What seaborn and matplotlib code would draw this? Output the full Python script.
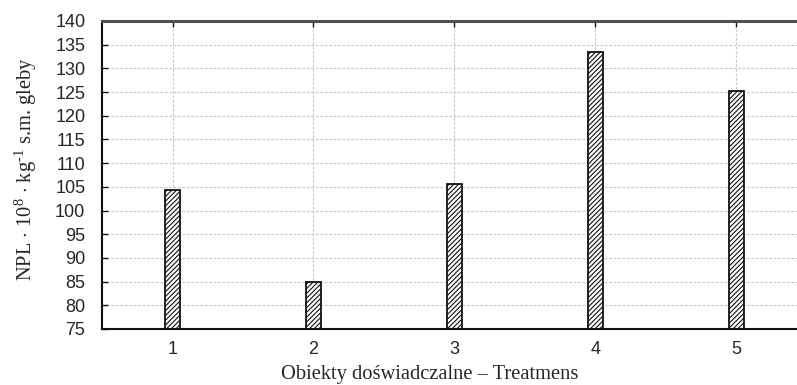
import matplotlib
matplotlib.use("Agg")
import matplotlib.pyplot as plt
import seaborn as sns
import pandas as pd

treatments = ["1", "2", "3", "4", "5"]
npl_values = [104.3, 84.9, 105.5, 133.4, 125.2]
y_ticks = list(range(75, 141, 5))

sns.set_theme(style="white")
plt.rcParams["hatch.linewidth"] = 0.8
plt.rcParams["font.family"] = ["Liberation Sans", "DejaVu Sans"]
plt.rcParams["mathtext.fontset"] = "custom"
plt.rcParams["mathtext.rm"] = "Liberation Serif"
plt.rcParams["mathtext.it"] = "Liberation Serif:italic"

df = pd.DataFrame({"treatment": treatments, "npl": npl_values})

fig = plt.figure(figsize=(7.97, 3.85), dpi=100)
ax = fig.add_axes([0.128, 0.1455, 0.872, 0.80])

sns.barplot(data=df, x="treatment", y="npl", ax=ax, width=0.105,
            color="white", edgecolor="#111111", linewidth=1.3,
            hatch="///////", bottom=0)

ax.set_ylim(75, 140)
ax.set_xlim(-0.5, 4.43)
ax.set_yticks(y_ticks)
ax.set_yticklabels([str(v) for v in y_ticks])

ax.grid(True, axis="both", linestyle=(0, (2.5, 1.5)), color="#c8c8c8", linewidth=0.8)
ax.set_axisbelow(True)

for side in ["left", "bottom"]:
    ax.spines[side].set_color("#111111")
    ax.spines[side].set_linewidth(1.5)
ax.spines["top"].set_color("#505050")
ax.spines["top"].set_linewidth(2.2)
ax.spines["right"].set_visible(False)

ax.tick_params(axis="y", direction="in", length=4, width=1, color="#111111",
               labelsize=13, pad=12, left=True)
ax.tick_params(axis="x", direction="in", length=4, width=1, color="#111111",
               labelsize=13, pad=9, bottom=False, top=True)

ax.set_xlabel("Obiekty doświadczalne – Treatmens", family="Liberation Serif",
              fontsize=14.8)
ax.set_ylabel(r"NPL $\cdot$ 10$^{8}$ $\cdot$ kg$^{\text{-1}}$ s.m. gleby",
              family="Liberation Serif", fontsize=14.8)
ax.xaxis.set_label_coords(0.472, -0.118)
ax.yaxis.set_label_coords(-0.09, 0.52)

fig.savefig("out.png", dpi=100)
